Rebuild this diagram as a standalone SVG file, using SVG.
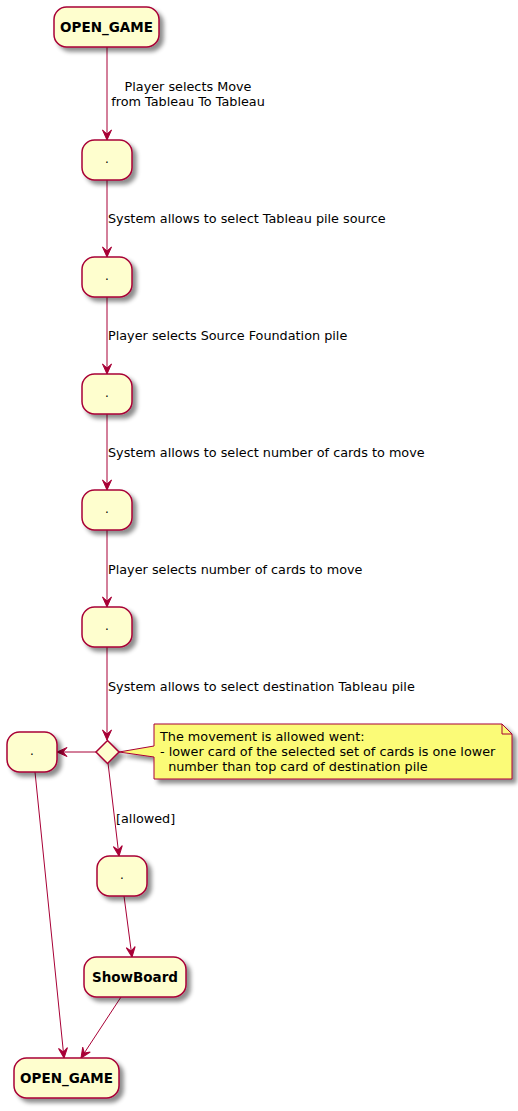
<svg xmlns="http://www.w3.org/2000/svg" width="518" height="1111" viewBox="0 0 518 1111">
<defs>
<filter id="sh" x="-20%" y="-20%" width="150%" height="160%">
<feGaussianBlur in="SourceAlpha" stdDeviation="2" result="b"/>
<feColorMatrix in="b" type="matrix" values="0 0 0 0 0  0 0 0 0 0  0 0 0 0 0  0 0 0 0.45 0" result="c"/>
<feOffset in="c" dx="4" dy="4" result="o"/>
<feMerge><feMergeNode in="o"/><feMergeNode in="SourceGraphic"/></feMerge>
</filter>
<marker id="ah" markerUnits="userSpaceOnUse" viewBox="-11 -5 12 10" markerWidth="12" markerHeight="10" refX="0" refY="0" orient="auto">
<path d="M0,0 L-10,-4.5 L-6,0 L-10,4.5 Z" fill="#A80036" stroke="#A80036" stroke-width="1"/>
</marker>
</defs>
<style>
.n{fill:#FEFECE;stroke:#A80036;stroke-width:1.5;filter:url(#sh)}
.b{font-family:"DejaVu Sans",sans-serif;font-weight:bold;font-size:13.5px;fill:#000;text-anchor:middle}
.d{font-family:"DejaVu Sans",sans-serif;font-size:12px;fill:#000;text-anchor:middle}
.l{font-family:"DejaVu Sans",sans-serif;font-size:12.8px;fill:#000;white-space:pre}
.c{stroke:#A80036;stroke-width:1;fill:none;marker-end:url(#ah)}
.nt{fill:#FBFB77;stroke:#A80036;stroke-width:1}
</style>
<rect width="518" height="1111" fill="#FFFFFF"/>
<g id="connectors">
<line class="c" x1="107" y1="47" x2="107" y2="140"/>
<line class="c" x1="107" y1="180" x2="107" y2="257"/>
<line class="c" x1="107" y1="297" x2="107" y2="374"/>
<line class="c" x1="107" y1="414" x2="107" y2="490"/>
<line class="c" x1="107" y1="530" x2="107" y2="607"/>
<line class="c" x1="107" y1="647" x2="107" y2="740"/>
<line class="c" x1="96" y1="752" x2="57" y2="752"/>
<line class="c" x1="108" y1="763" x2="119" y2="856"/>
<line class="c" x1="124" y1="896" x2="132" y2="957"/>
<line class="c" x1="35" y1="772" x2="64" y2="1058"/>
<line class="c" x1="121" y1="997" x2="81" y2="1058"/>
<text class="l" x="188" y="91" text-anchor="middle">Player selects Move</text>
<text class="l" x="188" y="105.5" text-anchor="middle">from Tableau To Tableau</text>
<text class="l" x="108" y="222.5">System allows to select Tableau pile source</text>
<text class="l" x="108" y="339.5">Player selects Source Foundation pile</text>
<text class="l" x="108" y="456.5">System allows to select number of cards to move</text>
<text class="l" x="108" y="573.5">Player selects number of cards to move</text>
<text class="l" x="108" y="690.5">System allows to select destination Tableau pile</text>
<text class="l" x="116" y="822.5">[allowed]</text>
</g>
<g id="open_game_top">
<rect class="n" x="54" y="7" width="105" height="40" rx="12.5" ry="12.5"/>
<text class="b" x="106.5" y="32">OPEN_GAME</text>
</g>
<g id="a1">
<rect class="n" x="82" y="140" width="50" height="40" rx="12.5" ry="12.5"/>
<text class="d" x="107" y="163">.</text>
</g>
<g id="a2">
<rect class="n" x="82" y="257" width="50" height="40" rx="12.5" ry="12.5"/>
<text class="d" x="107" y="280">.</text>
</g>
<g id="a3">
<rect class="n" x="82" y="374" width="50" height="40" rx="12.5" ry="12.5"/>
<text class="d" x="107" y="397">.</text>
</g>
<g id="a4">
<rect class="n" x="82" y="490" width="50" height="40" rx="12.5" ry="12.5"/>
<text class="d" x="107" y="513">.</text>
</g>
<g id="a5">
<rect class="n" x="82" y="607" width="50" height="40" rx="12.5" ry="12.5"/>
<text class="d" x="107" y="630">.</text>
</g>
<g id="decision">
<polygon class="n" points="107.5,740.5 119,752 107.5,763.5 96,752"/>
</g>
<g id="note">
<path class="nt" style="filter:url(#sh)" d="M154,724 L502,724 L512,734 L512,779 L154,779 L154,757 L119,752 L154,746 Z"/>
<path d="M502,724 L502,734 L512,734" fill="none" stroke="#A80036" stroke-width="1"/>
<text class="l" x="160" y="741">The movement is allowed went:</text>
<text class="l" x="160" y="756">- lower card of the selected set of cards is one lower</text>
<text class="l" x="160" y="771" xml:space="preserve">  number than top card of destination pile</text>
</g>
<g id="a_left">
<rect class="n" x="7" y="732" width="50" height="40" rx="12.5" ry="12.5"/>
<text class="d" x="32" y="755">.</text>
</g>
<g id="a_allowed">
<rect class="n" x="97" y="856" width="50" height="40" rx="12.5" ry="12.5"/>
<text class="d" x="122" y="879">.</text>
</g>
<g id="showboard">
<rect class="n" x="84" y="957" width="102" height="40" rx="12.5" ry="12.5"/>
<text class="b" x="135" y="982">ShowBoard</text>
</g>
<g id="open_game_bottom">
<rect class="n" x="14" y="1058" width="105" height="40" rx="12.5" ry="12.5"/>
<text class="b" x="66.5" y="1083">OPEN_GAME</text>
</g>
</svg>
